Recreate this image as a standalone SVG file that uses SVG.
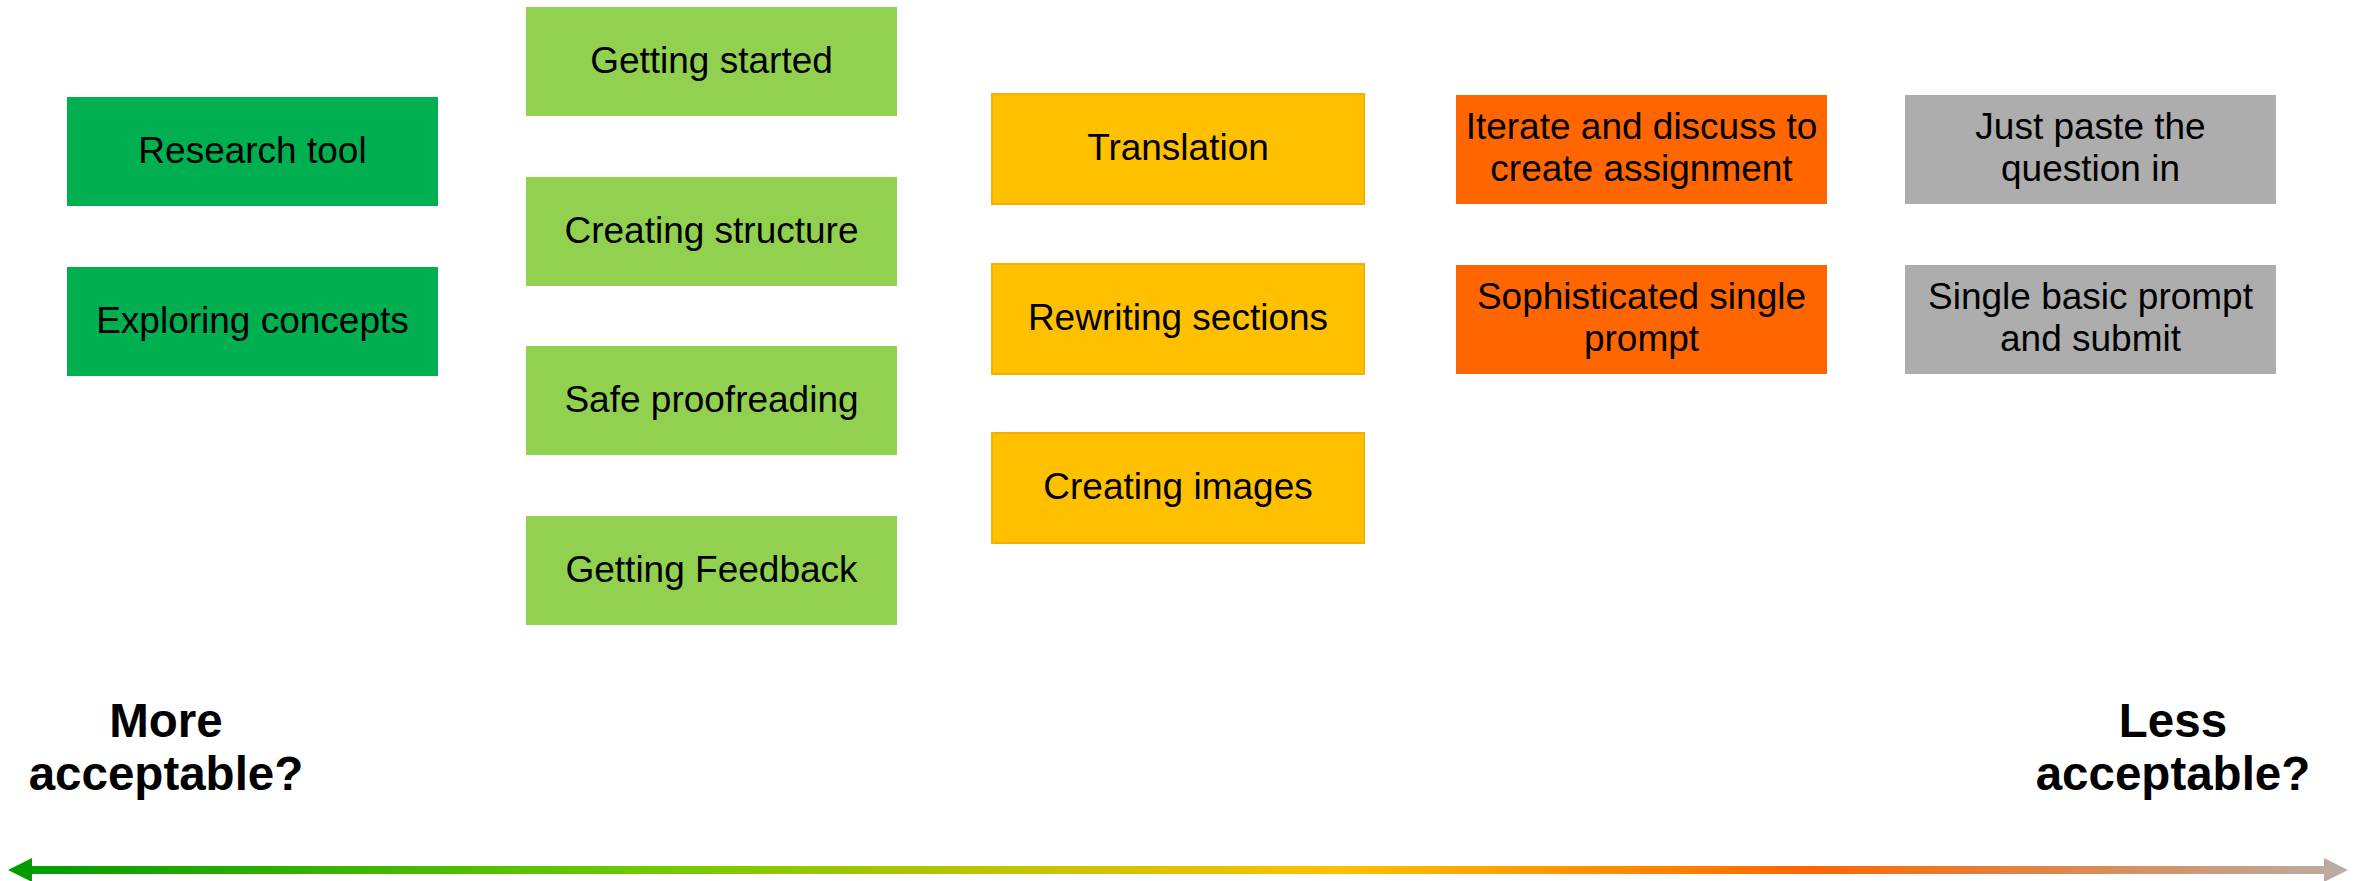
<svg xmlns="http://www.w3.org/2000/svg" width="2364" height="881" viewBox="0 0 2364 881">
<defs>
<linearGradient id="scale" gradientUnits="userSpaceOnUse" x1="8" y1="0" x2="2348" y2="0">
<stop offset="0" stop-color="#009A00"/>
<stop offset="0.2" stop-color="#52BF00"/>
<stop offset="0.27" stop-color="#6CCA00"/>
<stop offset="0.4" stop-color="#B4C400"/>
<stop offset="0.57" stop-color="#FFC000"/>
<stop offset="0.77" stop-color="#FF6600"/>
<stop offset="1" stop-color="#B8ADA5"/>
</linearGradient>
<style>
.box text{font-family:"Liberation Sans",Arial,sans-serif;font-size:37px;fill:#000;text-anchor:middle}
.lbl{font-family:"Liberation Sans",Arial,sans-serif;font-size:47.5px;font-weight:bold;fill:#000;text-anchor:middle}
.dg{fill:#00B050}
.lg{fill:#92D050}
.yl{fill:#FFC000;stroke:#F7AE00;stroke-width:2}
.or{fill:#FF6600}
.gr{fill:#ADADAD}
</style>
</defs>
<rect width="2364" height="881" fill="#FFFFFF"/>

<g id="research-tool" class="box"><rect class="dg" x="67" y="97" width="371" height="109"/><text x="252.5" y="162.5">Research tool</text></g>
<g id="exploring-concepts" class="box"><rect class="dg" x="67" y="267" width="371" height="109"/><text x="252.5" y="332.5">Exploring concepts</text></g>

<g id="getting-started" class="box"><rect class="lg" x="526" y="7" width="371" height="109"/><text x="711.5" y="72.5">Getting started</text></g>
<g id="creating-structure" class="box"><rect class="lg" x="526" y="177" width="371" height="109"/><text x="711.5" y="242.5">Creating structure</text></g>
<g id="safe-proofreading" class="box"><rect class="lg" x="526" y="346" width="371" height="109"/><text x="711.5" y="411.5">Safe proofreading</text></g>
<g id="getting-feedback" class="box"><rect class="lg" x="526" y="516" width="371" height="109"/><text x="711.5" y="581.5">Getting Feedback</text></g>

<g id="translation" class="box"><rect class="yl" x="992" y="94" width="372" height="110"/><text x="1178" y="160">Translation</text></g>
<g id="rewriting-sections" class="box"><rect class="yl" x="992" y="264" width="372" height="110"/><text x="1178" y="330">Rewriting sections</text></g>
<g id="creating-images" class="box"><rect class="yl" x="992" y="433" width="372" height="110"/><text x="1178" y="499">Creating images</text></g>

<g id="iterate-discuss" class="box"><rect class="or" x="1456" y="95" width="371" height="109"/><text x="1641.5" y="139">Iterate and discuss to</text><text x="1641.5" y="181">create assignment</text></g>
<g id="sophisticated-prompt" class="box"><rect class="or" x="1456" y="265" width="371" height="109"/><text x="1641.5" y="309">Sophisticated single</text><text x="1641.5" y="351">prompt</text></g>

<g id="just-paste" class="box"><rect class="gr" x="1905" y="95" width="371" height="109"/><text x="2090.5" y="139">Just paste the</text><text x="2090.5" y="181">question in</text></g>
<g id="single-basic-prompt" class="box"><rect class="gr" x="1905" y="265" width="371" height="109"/><text x="2090.5" y="309">Single basic prompt</text><text x="2090.5" y="351">and submit</text></g>

<g id="more-acceptable"><text class="lbl" x="166" y="737">More</text><text class="lbl" x="166" y="790">acceptable?</text></g>
<g id="less-acceptable"><text class="lbl" x="2173" y="737">Less</text><text class="lbl" x="2173" y="790">acceptable?</text></g>

<g id="connectors">
<path d="M8 870 L32 858 L32 866 L2324 866 L2324 858 L2348 870 L2324 882 L2324 874 L32 874 L32 882 Z" fill="url(#scale)"/>
</g>
</svg>
